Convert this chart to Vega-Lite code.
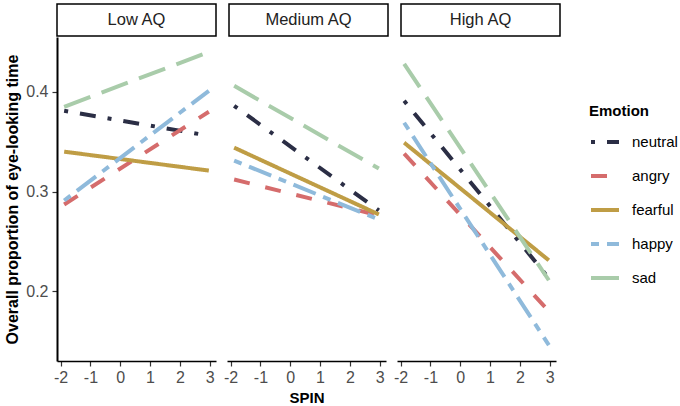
{
  "$schema": "https://vega.github.io/schema/vega-lite/v6.json",
  "padding": {"left": 4, "top": 3, "right": 5, "bottom": 2},
  "bounds": "flush",
  "spacing": 33,
  "datasets": {
    "strips": [
      {"AQ": "Low AQ"}, {"AQ": "Medium AQ"}, {"AQ": "High AQ"}
    ],
    "lines": [
      {"AQ": "Low AQ", "Emotion": "neutral", "SPIN": -1.88, "value": 0.381},
      {"AQ": "Low AQ", "Emotion": "neutral", "SPIN": 2.97, "value": 0.356},
      {"AQ": "Low AQ", "Emotion": "angry", "SPIN": -1.88, "value": 0.287},
      {"AQ": "Low AQ", "Emotion": "angry", "SPIN": 2.97, "value": 0.380},
      {"AQ": "Low AQ", "Emotion": "fearful", "SPIN": -1.88, "value": 0.340},
      {"AQ": "Low AQ", "Emotion": "fearful", "SPIN": 2.97, "value": 0.321},
      {"AQ": "Low AQ", "Emotion": "happy", "SPIN": -1.88, "value": 0.291},
      {"AQ": "Low AQ", "Emotion": "happy", "SPIN": 2.97, "value": 0.401},
      {"AQ": "Low AQ", "Emotion": "sad", "SPIN": -1.88, "value": 0.385},
      {"AQ": "Low AQ", "Emotion": "sad", "SPIN": 2.97, "value": 0.440},
      {"AQ": "Medium AQ", "Emotion": "neutral", "SPIN": -1.88, "value": 0.386},
      {"AQ": "Medium AQ", "Emotion": "neutral", "SPIN": 2.97, "value": 0.281},
      {"AQ": "Medium AQ", "Emotion": "angry", "SPIN": -1.88, "value": 0.312},
      {"AQ": "Medium AQ", "Emotion": "angry", "SPIN": 2.97, "value": 0.276},
      {"AQ": "Medium AQ", "Emotion": "fearful", "SPIN": -1.88, "value": 0.344},
      {"AQ": "Medium AQ", "Emotion": "fearful", "SPIN": 2.97, "value": 0.277},
      {"AQ": "Medium AQ", "Emotion": "happy", "SPIN": -1.88, "value": 0.331},
      {"AQ": "Medium AQ", "Emotion": "happy", "SPIN": 2.97, "value": 0.272},
      {"AQ": "Medium AQ", "Emotion": "sad", "SPIN": -1.88, "value": 0.406},
      {"AQ": "Medium AQ", "Emotion": "sad", "SPIN": 2.97, "value": 0.323},
      {"AQ": "High AQ", "Emotion": "neutral", "SPIN": -1.88, "value": 0.391},
      {"AQ": "High AQ", "Emotion": "neutral", "SPIN": 2.97, "value": 0.213},
      {"AQ": "High AQ", "Emotion": "angry", "SPIN": -1.88, "value": 0.338},
      {"AQ": "High AQ", "Emotion": "angry", "SPIN": 2.97, "value": 0.180},
      {"AQ": "High AQ", "Emotion": "fearful", "SPIN": -1.88, "value": 0.349},
      {"AQ": "High AQ", "Emotion": "fearful", "SPIN": 2.97, "value": 0.231},
      {"AQ": "High AQ", "Emotion": "happy", "SPIN": -1.88, "value": 0.369},
      {"AQ": "High AQ", "Emotion": "happy", "SPIN": 2.97, "value": 0.146},
      {"AQ": "High AQ", "Emotion": "sad", "SPIN": -1.88, "value": 0.428},
      {"AQ": "High AQ", "Emotion": "sad", "SPIN": 2.97, "value": 0.211}
    ]
  },
  "config": {
    "font": "Liberation Sans",
    "view": {"stroke": null},
    "axis": {
      "grid": false,
      "domain": true,
      "domainColor": "black",
      "domainWidth": 1.6,
      "tickColor": "#333333",
      "tickWidth": 1.2,
      "tickSize": 5,
      "labelColor": "#4D4D4D",
      "labelFontSize": 16,
      "labelFont": "Liberation Sans",
      "titleFont": "Liberation Sans",
      "titleFontSize": 16,
      "titleFontWeight": "bold",
      "titleColor": "black"
    },
    "axisY": {"domain": true, "domainColor": "#000000", "domainWidth": 2, "domainOpacity": 1},
    "legend": {
      "symbolType": "stroke",
      "symbolSize": 784,
      "symbolStrokeWidth": 4,
      "labelFontSize": 15,
      "labelColor": "black",
      "labelFont": "Liberation Sans",
      "titleFont": "Liberation Sans",
      "titleFontSize": 15,
      "titleFontWeight": "bold",
      "titleColor": "black",
      "rowPadding": 10,
      "titlePadding": 7,
      "labelOffset": 11,
      "padding": 0
    }
  },
  "vconcat": [
    {
      "data": {"name": "strips"},
      "facet": {
        "column": {
          "field": "AQ",
          "type": "nominal",
          "sort": ["Low AQ", "Medium AQ", "High AQ"],
          "title": null,
          "header": {"labels": false, "title": null}
        }
      },
      "spacing": 11,
      "spec": {
        "width": 159,
        "height": 32,
        "view": {"stroke": "black", "strokeWidth": 1.5, "fill": "white"},
        "mark": {"type": "text", "fontSize": 16.5, "color": "#222222", "font": "Liberation Sans"},
        "encoding": {"text": {"field": "AQ", "type": "nominal"}}
      }
    },
    {
      "bounds": "flush",
      "spacing": 11,
      "hconcat": [
        {
          "width": 159,
          "height": 324,
          "data": {"name": "lines"},
          "transform": [{"filter": "datum.AQ === 'Low AQ'"}],
          "mark": {"type": "line", "strokeWidth": 4},
          "encoding": {
            "x": {
              "field": "SPIN",
              "type": "quantitative",
              "scale": {"domain": [-2.12, 3.21], "nice": false, "zero": false},
              "axis": {"values": [-2, -1, 0, 1, 2, 3], "title": null, "labelExpr": "datum.value + ''", "labelPadding": 3}
            },
            "y": {
              "field": "value",
              "type": "quantitative",
              "scale": {"domain": [0.13, 0.455], "nice": false, "zero": false},
              "axis": {"values": [0.2, 0.3, 0.4], "format": ".1f", "title": "Overall proportion of eye-looking time", "titlePadding": 5, "labelPadding": 4, "domain": true, "domainColor": "#000000", "domainWidth": 2}
            },
            "color": {
              "field": "Emotion",
              "type": "nominal",
              "scale": {
                "domain": ["neutral", "angry", "fearful", "happy", "sad"],
                "range": ["#2B2E45", "#D56C6C", "#BF9D45", "#8FBADB", "#A9CCAA"]
              },
              "legend": {"title": "Emotion", "orient": "none", "legendX": 532, "legendY": 100}
            },
            "strokeDash": {
              "field": "Emotion",
              "type": "nominal",
              "scale": {
                "domain": ["neutral", "angry", "fearful", "happy", "sad"],
                "range": [[4, 12, 16, 12], [16, 16], [1, 0], [8, 8, 24, 8], [28, 12]]
              },
              "legend": {"title": "Emotion", "orient": "none", "legendX": 532, "legendY": 100}
            }
          }
        },
        {
          "width": 159,
          "height": 324,
          "data": {"name": "lines"},
          "transform": [{"filter": "datum.AQ === 'Medium AQ'"}],
          "mark": {"type": "line", "strokeWidth": 4},
          "encoding": {
            "x": {
              "field": "SPIN",
              "type": "quantitative",
              "scale": {"domain": [-2.12, 3.21], "nice": false, "zero": false},
              "axis": {"values": [-2, -1, 0, 1, 2, 3], "title": "SPIN", "titleFontSize": 15, "titlePadding": 5, "labelExpr": "datum.value + ''", "labelPadding": 3}
            },
            "y": {
              "field": "value",
              "type": "quantitative",
              "scale": {"domain": [0.13, 0.455], "nice": false, "zero": false},
              "axis": null
            },
            "color": {"field": "Emotion", "type": "nominal"},
            "strokeDash": {"field": "Emotion", "type": "nominal"}
          }
        },
        {
          "width": 159,
          "height": 324,
          "data": {"name": "lines"},
          "transform": [{"filter": "datum.AQ === 'High AQ'"}],
          "mark": {"type": "line", "strokeWidth": 4},
          "encoding": {
            "x": {
              "field": "SPIN",
              "type": "quantitative",
              "scale": {"domain": [-2.12, 3.21], "nice": false, "zero": false},
              "axis": {"values": [-2, -1, 0, 1, 2, 3], "title": null, "labelExpr": "datum.value + ''", "labelPadding": 3}
            },
            "y": {
              "field": "value",
              "type": "quantitative",
              "scale": {"domain": [0.13, 0.455], "nice": false, "zero": false},
              "axis": null
            },
            "color": {"field": "Emotion", "type": "nominal"},
            "strokeDash": {"field": "Emotion", "type": "nominal"}
          }
        }
      ]
    }
  ]
}
